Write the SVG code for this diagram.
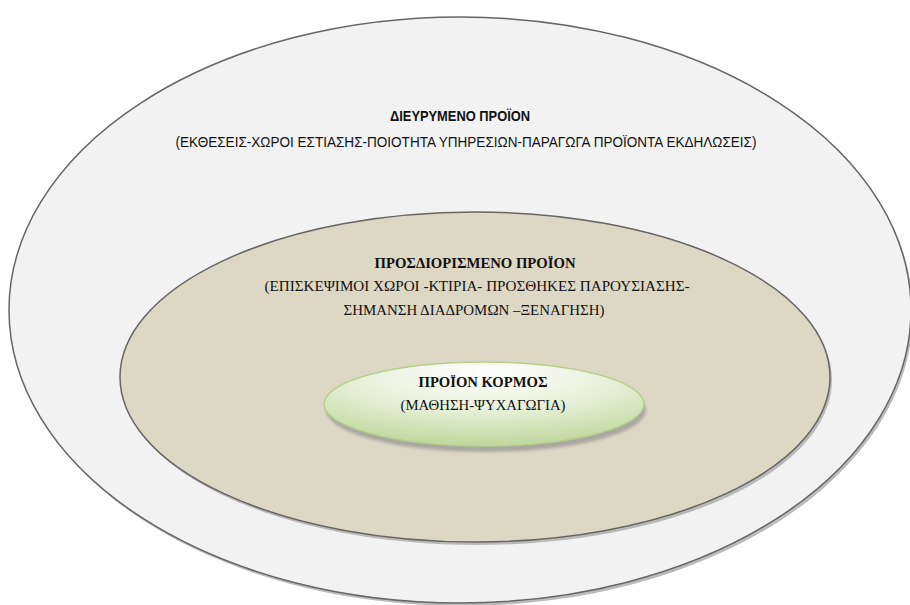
<svg xmlns="http://www.w3.org/2000/svg" width="910" height="605" viewBox="0 0 910 605">
<defs>
<radialGradient id="g" cx="0.5" cy="0.15" r="0.8">
<stop offset="0" stop-color="#ffffff"/>
<stop offset="0.55" stop-color="#e6efd6"/>
<stop offset="1" stop-color="#c4d9a2"/>
</radialGradient>
<filter id="blur" x="-10%" y="-10%" width="120%" height="130%"><feGaussianBlur stdDeviation="1.5"/></filter>
</defs>
<style>
.sans{font-family:"Liberation Sans","Open Sans",sans-serif;font-size:14px;fill:#111}
.serif{font-family:"Liberation Serif","DejaVu Serif",serif;font-size:15px;fill:#111}
.b{font-weight:bold}
.sh{fill:#aaaaaa;opacity:0.8}
</style>
<rect width="910" height="605" fill="#ffffff"/>
<g id="outer">
<ellipse class="sh" cx="462" cy="313" rx="451" ry="293"/>
<ellipse cx="460" cy="310" rx="451" ry="293" fill="#f2f2f2" stroke="#666" stroke-width="1.5"/>
<text class="sans b" x="460" y="121" text-anchor="middle" textLength="140" lengthAdjust="spacingAndGlyphs">ΔΙΕΥΡΥΜΕΝΟ ΠΡΟΪΟΝ</text>
<text class="sans" x="466" y="147" text-anchor="middle" textLength="581" lengthAdjust="spacingAndGlyphs">(ΕΚΘΕΣΕΙΣ-ΧΩΡΟΙ ΕΣΤΙΑΣΗΣ-ΠΟΙΟΤΗΤΑ ΥΠΗΡΕΣΙΩΝ-ΠΑΡΑΓΩΓΑ ΠΡΟΪΟΝΤΑ ΕΚΔΗΛΩΣΕΙΣ)</text>
</g>
<g id="middle">
<ellipse class="sh" cx="477" cy="380" rx="355" ry="165"/>
<ellipse cx="475" cy="377" rx="355" ry="165" fill="#ddd8c4" stroke="#666" stroke-width="1.5"/>
<text class="serif b" x="475" y="268" text-anchor="middle" textLength="201" lengthAdjust="spacingAndGlyphs">ΠΡΟΣΔΙΟΡΙΣΜΕΝΟ ΠΡΟΪΟΝ</text>
<text class="serif" x="477" y="291" text-anchor="middle" textLength="425" lengthAdjust="spacingAndGlyphs">(ΕΠΙΣΚΕΨΙΜΟΙ ΧΩΡΟΙ -ΚΤΙΡΙΑ- ΠΡΟΣΘΗΚΕΣ ΠΑΡΟΥΣΙΑΣΗΣ-</text>
<text class="serif" x="474" y="315" text-anchor="middle" textLength="261" lengthAdjust="spacingAndGlyphs">ΣΗΜΑΝΣΗ ΔΙΑΔΡΟΜΩΝ –ΞΕΝΑΓΗΣΗ)</text>
</g>
<g id="core">
<ellipse cx="486" cy="410" rx="160" ry="42" fill="#888" opacity="0.6" filter="url(#blur)"/>
<ellipse cx="484" cy="404" rx="160" ry="42" fill="url(#g)" stroke="#b6cf8e" stroke-width="1.5"/>
<text class="serif b" x="483" y="387" text-anchor="middle" textLength="129" lengthAdjust="spacingAndGlyphs">ΠΡΟΪΟΝ ΚΟΡΜΟΣ</text>
<text class="serif" x="483" y="410" text-anchor="middle" textLength="165" lengthAdjust="spacingAndGlyphs">(ΜΑΘΗΣΗ-ΨΥΧΑΓΩΓΙΑ)</text>
</g>
<g id="connectors"/>
</svg>
